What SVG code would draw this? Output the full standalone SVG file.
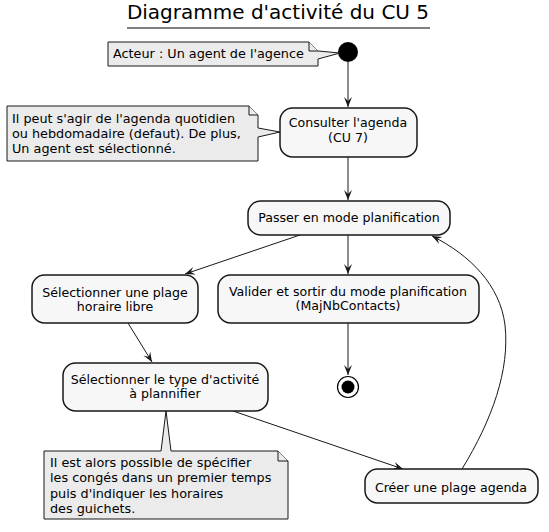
<svg xmlns="http://www.w3.org/2000/svg" width="549" height="532" viewBox="0 0 549 532">
<defs>
<style>
.box{fill:#F7F7F7;stroke:#181818;stroke-width:1.5}
.note{fill:#EBEBEB;stroke:#181818;stroke-width:1}
.t{font-family:"DejaVu Sans",sans-serif;font-size:12.6px;fill:#000}
.n{font-size:12.8px}
.c{text-anchor:middle}
.edge{fill:none;stroke:#181818;stroke-width:1}
</style>
<marker id="arr" markerUnits="userSpaceOnUse" markerWidth="10" markerHeight="10" refX="10" refY="5" orient="auto" viewBox="0 0 10 10">
<path d="M0,1 L10,5 L0,9 L4,5 Z" fill="#181818"/>
</marker>
</defs>
<rect width="549" height="532" fill="#FFFFFF"/>
<g id="title">
<text x="278" y="19" text-anchor="middle" style="font-family:'DejaVu Sans',sans-serif;font-size:20px">Diagramme d'activité du CU 5</text>
<line x1="127" y1="28" x2="430" y2="28" stroke="#000" stroke-width="1"/>
</g>
<g id="connectors">
<path class="edge" d="M348,62 V107" marker-end="url(#arr)"/>
<path class="edge" d="M348,157 V200" marker-end="url(#arr)"/>
<path class="edge" d="M348,235 V274" marker-end="url(#arr)"/>
<path class="edge" d="M348,323 V375" marker-end="url(#arr)"/>
<path class="edge" d="M300,235 L185,274" marker-end="url(#arr)"/>
<path class="edge" d="M128,323 L152,362" marker-end="url(#arr)"/>
<path class="edge" d="M233,411 L403,469" marker-end="url(#arr)"/>
<path class="edge" d="M462,469 C492,420 510,370 505,325 C500,285 470,255 432,236" marker-end="url(#arr)"/>
</g>
<g id="start">
<circle cx="348" cy="52" r="10" fill="#000"/>
</g>
<g id="note1">
<path class="note" d="M108,42 H309 L318,51 L340,53 L318,59 V66 H108 Z"/>
<path class="note" d="M309,42 V51 H318" fill="none"/>
<text class="t n" x="113" y="58">Acteur : Un agent de l'agence</text>
</g>
<g id="consulter">
<rect class="box" x="280" y="108" width="137" height="49" rx="12.5"/>
<text class="t c" x="348" y="127">Consulter l'agenda</text>
<text class="t c" x="348" y="142">(CU 7)</text>
</g>
<g id="note2">
<path class="note" d="M7,106 H249 L258,115 V128 L280,132 L258,137 V161 H7 Z"/>
<path class="note" d="M249,106 V115 H258" fill="none"/>
<text class="t n" x="12" y="123">Il peut s'agir de l'agenda quotidien</text>
<text class="t n" x="12" y="138">ou hebdomadaire (defaut). De plus,</text>
<text class="t n" x="12" y="153">Un agent est sélectionné.</text>
</g>
<g id="passer">
<rect class="box" x="248" y="201" width="202" height="34" rx="12.5"/>
<text class="t c" x="349" y="222">Passer en mode planification</text>
</g>
<g id="valider">
<rect class="box" x="218" y="275" width="261" height="48" rx="12.5"/>
<text class="t c" x="348" y="296">Valider et sortir du mode planification</text>
<text class="t c" x="348" y="310">(MajNbContacts)</text>
</g>
<g id="end">
<circle cx="348" cy="387" r="10.5" fill="none" stroke="#000" stroke-width="1.2"/>
<circle cx="348" cy="387" r="6.5" fill="#000"/>
</g>
<g id="plage">
<rect class="box" x="32" y="275" width="166" height="48" rx="12.5"/>
<text class="t c" x="115" y="297">Sélectionner une plage</text>
<text class="t c" x="115" y="311">horaire libre</text>
</g>
<g id="type">
<rect class="box" x="63" y="363" width="205" height="48" rx="12.5"/>
<text class="t c" x="165" y="384">Sélectionner le type d'activité</text>
<text class="t c" x="165" y="398">à plannifier</text>
</g>
<g id="note3">
<path class="note" d="M44,451 H161 L166,411 L171,451 H278 L288,461 V519 H44 Z"/>
<path class="note" d="M278,451 V461 H288" fill="none"/>
<text class="t n" x="50" y="467">Il est alors possible de spécifier</text>
<text class="t n" x="50" y="482">les congés dans un premier temps</text>
<text class="t n" x="50" y="498">puis d'indiquer les horaires</text>
<text class="t n" x="50" y="513">des guichets.</text>
</g>
<g id="creer">
<rect class="box" x="365" y="469" width="173" height="34" rx="12.5"/>
<text class="t c" x="451" y="492">Créer une plage agenda</text>
</g>
</svg>
